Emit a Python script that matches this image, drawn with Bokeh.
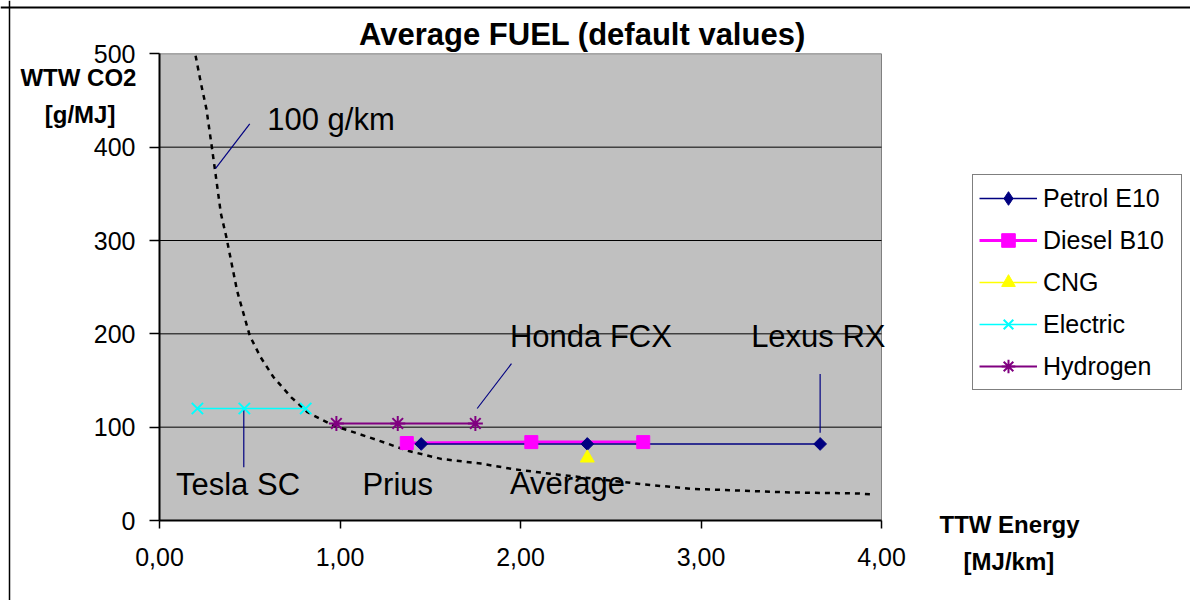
from bokeh.plotting import figure
from bokeh.models import (Range1d, FixedTicker, Label, Legend, LegendItem, ColumnDataSource,
                          LinearAxis, Span)
from bokeh.core.properties import value
from bokeh.embed import file_html
from bokeh.resources import INLINE

FONT = "Liberation Sans"

# ---- data ----
petrol_x = [1.45, 2.37, 3.66]
petrol_y = [82, 82, 82]
diesel_x = [1.37, 2.06, 2.68]
diesel_y = [83, 84, 84]
cng_x = [2.37]
cng_y = [67]
electric_x = [0.21, 0.47, 0.81]
electric_y = [120, 120, 120]
hydrogen_x = [0.98, 1.32, 1.75]
hydrogen_y = [104, 104, 104]

# 100 g/km reference curve
curve_x = [0.20, 0.23, 0.26, 0.29, 0.31, 0.34, 0.37, 0.43, 0.50, 0.56, 0.63, 0.73,
           0.82, 0.96, 1.21, 1.37, 1.56, 1.78, 1.96, 2.17, 2.67, 2.94, 3.22, 3.50, 3.87, 3.95]
curve_y = [498, 468, 441, 400, 372, 329, 304, 246, 198, 175, 154, 132,
           116, 102, 86, 75, 66, 61, 55, 50, 39, 34, 32, 30, 29, 28]

x_ticks = [0, 1, 2, 3, 4]
x_tick_labels = ["0,00", "1,00", "2,00", "3,00", "4,00"]
y_ticks = [0, 100, 200, 300, 400, 500]
y_tick_labels = ["0", "100", "200", "300", "400", "500"]
grid_y = [100, 200, 300, 400]

# annotations: text, x, y
ann_text = ["100 g/km", "Honda FCX", "Lexus RX", "Tesla SC", "Prius", "Average"]
ann_x = [0.95, 2.39, 3.65, 0.435, 1.32, 2.26]
ann_y = [430, 197, 197, 39, 39, 40]

# leader lines: x0, y0, x1, y1
lead_x0 = [0.31, 0.467, 1.76, 3.66]
lead_y0 = [377, 120, 120, 94]
lead_x1 = [0.50, 0.467, 1.95, 3.66]
lead_y1 = [425, 57, 168, 157]

NAVY = "#000080"
MAGENTA = "#FF00FF"
YELLOW = "#FFFF00"
CYAN = "#00FFFF"
PURPLE = "#800080"

W, H = 1190, 600
PX_X = 180.5      # pixels per x unit
PX_Y = 0.93333    # pixels per y unit
X0, Y0 = 159, 520  # pixel position of data origin

p = figure(width=W, height=H, output_backend="svg", toolbar_location=None,
           x_range=Range1d(-X0 / PX_X, (W - X0) / PX_X),
           y_range=Range1d(-(H - Y0) / PX_Y, Y0 / PX_Y),
           x_axis_location=None, y_axis_location=None, min_border=0)
p.title.visible = False
p.background_fill_color = "white"
p.border_fill_color = "white"
p.outline_line_color = None
p.grid.visible = False

# outer border (left and top)
p.add_layout(Span(location=(9 - X0) / PX_X, dimension="height", line_color="black", line_width=1.5))
p.add_layout(Span(location=(Y0 - 7) / PX_Y, dimension="width", line_color="black", line_width=2))

# plot area
p.quad(left=[x_ticks[0]], right=[x_ticks[-1]], bottom=[y_ticks[0]], top=[y_ticks[-1]],
       fill_color="#C0C0C0", line_color="#808080", line_width=1)
p.segment(x0=[x_ticks[0]] * len(grid_y), x1=[x_ticks[-1]] * len(grid_y), y0=grid_y, y1=grid_y,
          line_color="black", line_width=1)

xaxis = LinearAxis(fixed_location=0, bounds=(0, 4), ticker=FixedTicker(ticks=x_ticks))
yaxis = LinearAxis(fixed_location=0, bounds=(0, 500), ticker=FixedTicker(ticks=y_ticks))
xaxis.major_label_overrides = {t: l for t, l in zip(x_ticks, x_tick_labels)}
yaxis.major_label_overrides = {t: l for t, l in zip(y_ticks, y_tick_labels)}
for ax in (xaxis, yaxis):
    ax.axis_line_color = "black"
    ax.axis_line_width = 2
    ax.major_tick_line_color = "black"
    ax.major_tick_line_width = 1.5
    ax.major_tick_in = 0
    ax.minor_tick_line_color = None
    ax.major_label_text_font = FONT
    ax.major_label_text_font_size = "25px"
    ax.major_label_text_color = "black"
xaxis.major_tick_out = 8
xaxis.major_label_standoff = 19
yaxis.major_tick_out = 10
yaxis.major_label_standoff = 14
p.add_layout(xaxis, "below")
p.add_layout(yaxis, "left")

# reference curve
p.line(curve_x, curve_y, line_color="black", line_width=2.5, line_dash="5 5")

# leader lines
p.segment(lead_x0, lead_y0, lead_x1, lead_y1, line_color=NAVY, line_width=1.2)

# series lines
l_diesel = p.line(diesel_x, diesel_y, line_color=MAGENTA, line_width=3)
l_petrol = p.line(petrol_x, petrol_y, line_color=NAVY, line_width=1.5)
l_cng = p.line(cng_x, cng_y, line_color=YELLOW, line_width=1.5)
l_elec = p.line(electric_x, electric_y, line_color=CYAN, line_width=1.5)
l_hyd = p.line(hydrogen_x, hydrogen_y, line_color=PURPLE, line_width=2)

m_diesel = p.scatter(diesel_x, diesel_y, marker="square", size=13, fill_color=MAGENTA, line_color=MAGENTA)
# diamond glyph (shown in the legend) under a rotated square (fuller diamond in the plot)
m_petrol_d = p.scatter(petrol_x, petrol_y, marker="diamond", size=8, fill_color=NAVY, line_color=NAVY)
m_petrol = p.scatter(petrol_x, petrol_y, marker="square", angle=0.785398, size=9, fill_color=NAVY, line_color=NAVY)
m_cng = p.scatter(cng_x, cng_y, marker="triangle", size=14, fill_color=YELLOW, line_color=YELLOW)
m_elec = p.scatter(electric_x, electric_y, marker="x", size=16, line_color=CYAN, line_width=2)
m_hyd = p.scatter(hydrogen_x, hydrogen_y, marker="asterisk", size=15, line_color=PURPLE, line_width=2)

# annotation texts
src = ColumnDataSource(dict(x=ann_x, y=ann_y, t=ann_text))
p.text(x="x", y="y", text="t", source=src, text_font=value(FONT), text_font_size="31px",
       text_align="center", text_baseline="alphabetic", text_color="black")

# title and axis labels
p.add_layout(Label(x=2.343, y=521, text="Average FUEL (default values)", text_font=FONT,
                   text_font_size="31px", text_font_style="bold", text_align="center",
                   text_baseline="alphabetic", text_color="black"))
p.add_layout(Label(x=-0.449, y=474.5, text="WTW CO2", text_font=FONT, text_font_size="24px",
                   text_font_style="bold", text_align="center", text_baseline="alphabetic",
                   text_color="black"))
p.add_layout(Label(x=-0.44, y=435.5, text="[g/MJ]", text_font=FONT, text_font_size="24px",
                   text_font_style="bold", text_align="center", text_baseline="alphabetic",
                   text_color="black"))
p.add_layout(Label(x=4.709, y=-4.5, text="TTW Energy", text_font=FONT, text_font_size="24px",
                   text_font_style="bold", text_align="center", text_baseline="alphabetic",
                   text_color="black"))
p.add_layout(Label(x=4.706, y=-43.5, text="[MJ/km]", text_font=FONT, text_font_size="24px",
                   text_font_style="bold", text_align="center", text_baseline="alphabetic",
                   text_color="black"))

legend = Legend(items=[
    LegendItem(label="Petrol E10", renderers=[l_petrol, m_petrol_d]),
    LegendItem(label="Diesel B10", renderers=[l_diesel, m_diesel]),
    LegendItem(label="CNG", renderers=[l_cng, m_cng]),
    LegendItem(label="Electric", renderers=[l_elec, m_elec]),
    LegendItem(label="Hydrogen", renderers=[l_hyd, m_hyd]),
], location=(972, H - 390))
legend.border_line_color = "black"
legend.border_line_width = 1.5
legend.background_fill_color = "white"
legend.background_fill_alpha = 1
legend.label_text_font = FONT
legend.label_text_font_size = "25px"
legend.label_text_color = "black"
legend.glyph_width = 58
legend.glyph_height = 34
legend.label_height = 34
legend.label_width = 132
legend.spacing = 8
legend.padding = 6
legend.margin = 0
legend.label_standoff = 6
p.add_layout(legend, "center")

open("out.html", "w").write(file_html(p, INLINE))
